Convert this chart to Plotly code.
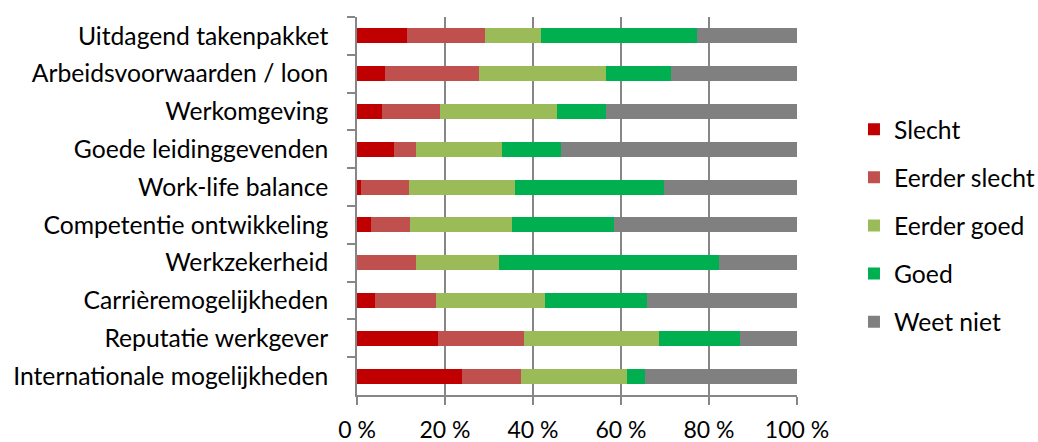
import plotly.graph_objects as go

categories = [
    "Uitdagend takenpakket",
    "Arbeidsvoorwaarden / loon",
    "Werkomgeving",
    "Goede leidinggevenden",
    "Work-life balance",
    "Competentie ontwikkeling",
    "Werkzekerheid",
    "Carrièremogelijkheden",
    "Reputatie werkgever",
    "Internationale mogelijkheden",
]

slecht = [11.3, 6.4, 5.6, 8.4, 0.9, 3.2, 0.0, 4.2, 18.4, 23.8]
eerder_slecht = [17.7, 21.3, 13.2, 5.1, 10.9, 8.8, 13.5, 13.8, 19.6, 13.4]
eerder_goed = [12.8, 28.8, 26.6, 19.5, 24.0, 23.2, 18.7, 24.7, 30.6, 24.1]
goed = [35.4, 14.8, 11.2, 13.4, 33.9, 23.1, 50.1, 23.3, 18.4, 4.1]
weet_niet = [22.8, 28.7, 43.4, 53.6, 30.3, 41.7, 17.7, 34.0, 13.0, 34.6]

series = [
    ("Slecht", slecht, "#C00000"),
    ("Eerder slecht", eerder_slecht, "#C0504D"),
    ("Eerder goed", eerder_goed, "#9BBB59"),
    ("Goed", goed, "#00B050"),
    ("Weet niet", weet_niet, "#808080"),
]

FONT = "Lato"
FS = 24.7

fig = go.Figure()
for i, (name, vals, color) in enumerate(series):
    fig.add_trace(go.Bar(
        y=categories, x=vals, name=name, orientation="h",
        marker=dict(color=color, line=dict(width=0)),
        legendgroup=str(i),
    ))

fig.update_layout(
    barmode="stack",
    bargap=0.6,
    width=1038, height=442,
    margin=dict(l=357, r=241, t=17, b=47, autoexpand=False),
    paper_bgcolor="white", plot_bgcolor="white",
    font=dict(family=FONT, size=FS, color="#000000"),
    legend=dict(
        x=1.1295, xanchor="left", xref="paper",
        y=0.448, yanchor="middle",
        traceorder="grouped", tracegroupgap=13,
        font=dict(size=FS), itemwidth=30,
        bgcolor="rgba(0,0,0,0)",
    ),
    xaxis=dict(
        range=[0, 100], dtick=20, tick0=0, ticksuffix=" %",
        showgrid=True, gridcolor="#868686", gridwidth=1.5,
        showline=True, linecolor="#868686", linewidth=1.5,
        ticks="outside", ticklen=8, tickcolor="#868686", tickwidth=1.5,
        zeroline=False, fixedrange=True, automargin=False,
        tickfont=dict(size=23), ticklabelstandoff=6,
    ),
    yaxis=dict(
        autorange="reversed", type="category",
        showline=True, linecolor="#868686", linewidth=1.5,
        ticks="outside", ticklen=8, tickcolor="#868686", tickwidth=1.5,
        tickson="boundaries", showgrid=False, automargin=False,
        tickfont=dict(size=FS), ticklabelstandoff=22,
    ),
)

fig.write_html("out.html")
